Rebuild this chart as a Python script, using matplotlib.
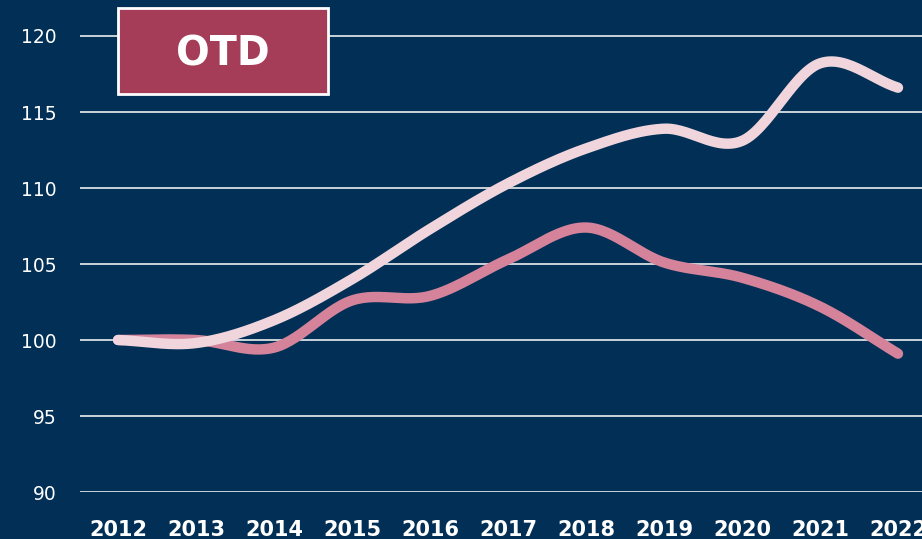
import numpy as np
import matplotlib
matplotlib.use("Agg")
import matplotlib.pyplot as plt
from matplotlib.patches import Rectangle

years = [2012, 2013, 2014, 2015, 2016, 2017, 2018, 2019, 2020, 2021, 2022]
light_series = [100, 99.8, 101.3, 104.0, 107.3, 110.3, 112.6, 113.9, 113.1, 118.2, 116.6]
dark_series = [100, 100.0, 99.5, 102.6, 102.9, 105.3, 107.4, 105.1, 104.1, 102.2, 99.1]
y_ticks = [90, 95, 100, 105, 110, 115, 120]
badge_text = "OTD"

bg = "#012F55"
light_col = "#F0D5DD"
dark_col = "#D4839A"
badge_col = "#A63D58"


def smooth(xs, ys, n=30):
    # catmull-rom style curve through the points
    xs = np.asarray(xs, float)
    ys = np.asarray(ys, float)
    px = np.concatenate([[2 * xs[0] - xs[1]], xs, [2 * xs[-1] - xs[-2]]])
    py = np.concatenate([[2 * ys[0] - ys[1]], ys, [2 * ys[-1] - ys[-2]]])
    out_x, out_y = [], []
    t = np.linspace(0, 1, n)
    for i in range(1, len(px) - 2):
        for arr, out in ((px, out_x), (py, out_y)):
            p0, p1, p2, p3 = arr[i - 1], arr[i], arr[i + 1], arr[i + 2]
            m1 = (p2 - p0) / 2
            m2 = (p3 - p1) / 2
            h00 = 2 * t**3 - 3 * t**2 + 1
            h10 = t**3 - 2 * t**2 + t
            h01 = -2 * t**3 + 3 * t**2
            h11 = t**3 - t**2
            out.extend(h00 * p1 + h10 * m1 + h01 * p2 + h11 * m2)
    return np.array(out_x), np.array(out_y)


fig = plt.figure(figsize=(9.22, 5.39), dpi=100, facecolor=bg)
ax = fig.add_axes([80 / 922, 1 - 492 / 539, 842 / 922, 492 / 539])
ax.set_facecolor(bg)

for v in y_ticks:
    ax.axhline(v, color="white", lw=1.1, zorder=1)

sx, sy = smooth(years, dark_series)
ax.plot(sx, sy, color=dark_col, lw=7.5, solid_capstyle="round", zorder=3)
sx, sy = smooth(years, light_series)
ax.plot(sx, sy, color=light_col, lw=7.5, solid_capstyle="round", zorder=4)

ax.set_xlim(2012 - 38 / 78, 2022 + 24 / 78)
ax.set_ylim(90, 120 + 36 / 15.2)
ax.set_xticks(years)
ax.set_xticklabels([str(y) for y in years], fontsize=15, fontweight="bold", color="white")
ax.set_yticks(y_ticks)
ax.set_yticklabels([str(v) for v in y_ticks], fontsize=13.5, color="white")
ax.tick_params(axis="x", length=0, pad=20)
ax.tick_params(axis="y", length=0, pad=16.5)
for s in ax.spines.values():
    s.set_visible(False)

# badge
fig.patches.append(Rectangle((118 / 922, 1 - 94 / 539), 210 / 922, 86 / 539,
                             transform=fig.transFigure, facecolor=badge_col,
                             edgecolor="white", lw=2, zorder=5))
fig.text(223 / 922, 1 - 54 / 539, badge_text, color="white", fontsize=28.5,
         fontweight="bold", ha="center", va="center", zorder=6)

fig.savefig("out.png", dpi=100, facecolor=bg)
